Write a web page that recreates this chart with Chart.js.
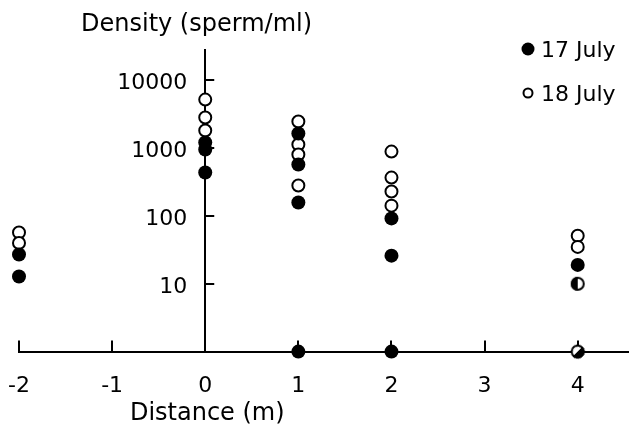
<!DOCTYPE html>
<html><head><meta charset="utf-8">
<script src="https://cdn.jsdelivr.net/npm/chart.js@4/dist/chart.umd.min.js"></script>
<style>html,body{margin:0;padding:0;background:#fff}</style>
</head><body>
<canvas id="c" width="636" height="435"></canvas>
<script>
// ---- data ----
const xTickValues = [-2, -1, 0, 1, 2, 3, 4];
const yTickValues = [10, 100, 1000, 10000];
const seriesLabels = ['17 July', '18 July'];
const yTitle = 'Density (sperm/ml)';
const xTitle = 'Distance (m)';

// 0 = no sperm found (plotted on the distance axis)
const july17Distance = [-2, -2, 0, 0, 0, 1, 1, 1, 1, 2, 2, 2, 4];
const july17Density  = [27, 12.8, 1210, 955, 437, 1640, 573, 158, 0, 92, 26, 0, 19];
const july18Distance = [-2, -2, 0, 0, 0, 1, 1, 1, 1, 2, 2, 2, 2, 4, 4];
const july18Density  = [57, 40, 5200, 2830, 1820, 2470, 1130, 805, 281, 890, 368, 229, 142, 51, 35];
// values shared by both days (half-filled symbols)
const bothDistance = [4, 4];
const bothDensity  = [10, 0];

const xMin = -2, xMax = 4.54, yMin = 1, yMax = 28000;

const toPoints = (xs, ys) => xs.map((d, i) => ({ x: d, y: ys[i] === 0 ? yMin : ys[i] }));

const FONT = 'DejaVu Sans';

// half-filled symbol
const half = document.createElement('canvas');
half.width = 16; half.height = 16;
(() => {
  const g = half.getContext('2d');
  g.beginPath(); g.arc(8, 8, 6, 0, Math.PI * 2); g.fillStyle = '#fff'; g.fill();
  g.beginPath(); g.moveTo(8, 8); g.arc(8, 8, 7, Math.PI / 2, Math.PI * 1.5); g.closePath();
  g.fillStyle = '#000'; g.fill();
  g.beginPath(); g.arc(8, 8, 6, 0, Math.PI * 2); g.lineWidth = 2; g.strokeStyle = '#000'; g.stroke();
})();

const decor = {
  id: 'decor',
  beforeDatasetsDraw(chart) {
    const { ctx, chartArea, scales: { x, y } } = chart;
    const ax = x.getPixelForValue(0);
    ctx.save();
    ctx.strokeStyle = '#000'; ctx.lineWidth = 2;
    ctx.beginPath();
    yTickValues.forEach(v => { const py = Math.round(y.getPixelForValue(v)); ctx.moveTo(ax, py); ctx.lineTo(ax + 9, py); });
    xTickValues.forEach(v => { const px = Math.round(x.getPixelForValue(v)); ctx.moveTo(px, chartArea.bottom); ctx.lineTo(px, chartArea.bottom - 11); });
    ctx.stroke();
    ctx.restore();
  },
  afterDraw(chart) {
    const { ctx, scales: { x } } = chart;
    ctx.save();
    ctx.fillStyle = '#000';
    ctx.font = '24px "' + FONT + '"';
    ctx.textBaseline = 'alphabetic';
    ctx.textAlign = 'left';
    ctx.fillText(yTitle, 81, 31);
    ctx.textAlign = 'center';
    ctx.fillText(xTitle, x.getPixelForValue(0) + 2, 420);
    // legend
    ctx.font = '22px "' + FONT + '"';
    ctx.textAlign = 'left';
    const rows = [{ y: 49, base: 57 }, { y: 93, base: 101 }];
    seriesLabels.forEach((lab, i) => {
      const ds = chart.data.datasets.find(d => d.label === lab);
      const r = rows[i];
      ctx.beginPath();
      if (ds.pointBackgroundColor === '#000') {
        ctx.arc(528, r.y, 6.5, 0, Math.PI * 2); ctx.fillStyle = '#000'; ctx.fill();
      } else {
        ctx.arc(528, r.y, 4.5, 0, Math.PI * 2); ctx.fillStyle = '#fff'; ctx.fill();
        ctx.lineWidth = 2; ctx.strokeStyle = '#000'; ctx.stroke();
      }
      ctx.fillStyle = '#000';
      ctx.fillText(lab, 541, r.base);
    });
    ctx.restore();
  }
};

const zeroPad = s => { s.paddingLeft = 0; s.paddingRight = 0; s.paddingTop = 0; s.paddingBottom = 0; };

new Chart(document.getElementById('c'), {
  type: 'scatter',
  data: {
    datasets: [
      { label: 'both', data: toPoints(bothDistance, bothDensity), pointStyle: half,
        rotation: ctx => (ctx.raw && ctx.raw.y === yMin ? 225 : 0), clip: false },
      { label: seriesLabels[0], data: toPoints(july17Distance, july17Density), pointRadius: 7,
        pointBackgroundColor: '#000', pointBorderColor: '#000', pointBorderWidth: 0, clip: false },
      { label: seriesLabels[1], data: toPoints(july18Distance, july18Density), pointRadius: 6,
        pointBackgroundColor: '#fff', pointBorderColor: '#000', pointBorderWidth: 2, clip: false }
    ]
  },
  options: {
    responsive: false,
    devicePixelRatio: 1,
    animation: false,
    events: [],
    layout: { padding: { left: 19, right: 0, top: 50, bottom: 15 } },
    plugins: { legend: { display: false }, tooltip: { enabled: false }, title: { display: false } },
    scales: {
      x: {
        type: 'linear', position: 'bottom', min: xMin, max: xMax,
        afterBuildTicks: s => { s.ticks = xTickValues.map(v => ({ value: v })); },
        afterFit: zeroPad,
        ticks: { color: '#000', padding: 21, font: { family: FONT, size: 22 }, callback: v => String(v), maxRotation: 0 },
        grid: { display: false, drawTicks: false },
        border: { display: true, color: '#000', width: 2 }
      },
      y: {
        type: 'logarithmic', position: { x: 0 }, min: yMin, max: yMax,
        afterBuildTicks: s => { s.ticks = yTickValues.map(v => ({ value: v })); },
        afterFit: zeroPad,
        ticks: { color: '#000', labelOffset: 3, font: { family: FONT, size: 22 }, callback: v => String(v) + ' \u2002' },
        grid: { display: false, drawTicks: false },
        border: { display: true, color: '#000', width: 2 }
      }
    }
  },
  plugins: [decor]
});
</script>
</body></html>
